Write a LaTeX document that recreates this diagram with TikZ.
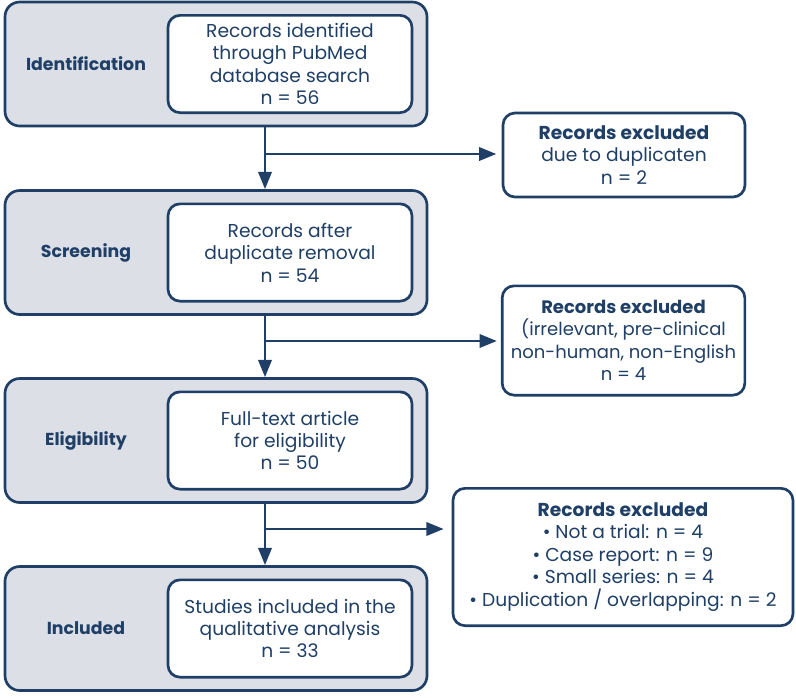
\documentclass[tikz,border=0pt]{standalone}
\usepackage{fontspec}
\setmainfont{Poppins}
\usetikzlibrary{arrows.meta}
\definecolor{navy}{HTML}{1F3F66}
\definecolor{panel}{HTML}{DDDFE7}
\tikzset{
  stage/.style={draw=navy, fill=panel, line width=2pt, rounded corners=11pt,
    minimum width=316.5pt, minimum height=93pt, inner sep=0pt},
  inner/.style={draw=navy, fill=white, line width=2pt, rounded corners=9pt,
    minimum width=183pt, minimum height=73pt, inner sep=0pt, align=center,
    text=navy, font=\fontsize{14}{16.8}\selectfont},
  excl/.style={draw=navy, fill=white, line width=2pt, rounded corners=9pt,
    inner sep=0pt, align=center, text=navy, font=\fontsize{14}{16.8}\selectfont},
  stagelabel/.style={text=navy, font=\fontsize{13}{16}\selectfont\bfseries},
  flow/.style={draw=navy, line width=2pt, -{Triangle[length=13pt,width=10pt]}},
  plain/.style={draw=navy, line width=2pt}
}
\begin{document}
\begin{tikzpicture}[x=0.75pt,y=-0.75pt]
\useasboundingbox (0,0) rectangle (796,697);
% stages
\node[stage] (s1) at (216,64) {};
\node[stage] (s2) at (216,252.5) {};
\node[stage] (s3) at (216,440.5) {};
\node[stage] (s4) at (216,628.5) {};
\node[stagelabel] (l1) at (86,64) {Identification};
\node[stagelabel] (l2) at (86,252.5) {Screening};
\node[stagelabel] (l3) at (86,440.5) {Eligibility};
\node[stagelabel] (l4) at (86,628.5) {Included};
\node[inner] (b1) at (290,64) {Records identified\\through PubMed\\database search\\n = 56};
\node[inner] (b2) at (290,252.5) {Records after\\duplicate removal\\n = 54};
\node[inner] (b3) at (290,440.5) {Full-text article\\for eligibility\\n = 50};
\node[inner] (b4) at (290,628.5) {Studies included in the\\qualitative analysis\\n = 33};
% exclusion boxes
\node[excl, minimum width=181.5pt, minimum height=63pt] (e1) at (624,155)
  {\textbf{Records excluded}\\due to duplicaten\\n = 2};
\node[excl, minimum width=182pt, minimum height=82pt,
  font=\fontsize{13.5}{16.8}\selectfont] (e2) at (623.5,340.5)
  {\textbf{Records excluded}\\(irrelevant, pre-clinical\\non-human, non-English\\n = 4};
\node[excl, minimum width=255pt, minimum height=103pt] (e3) at (623,557)
  {\textbf{Records excluded}\\• Not a trial: n = 4\\• Case report: n = 9\\• Small series: n = 4\\• Duplication / overlapping: n = 2};
% branch points
\coordinate (j1) at (265,154);
\coordinate (j2) at (265,341);
\coordinate (j3) at (265,529);
% vertical flow
\draw[flow] (s1.south -| j1) -- (s2.north -| j1);
\draw[flow] (s2.south -| j2) -- (s3.north -| j2);
\draw[flow] (s3.south -| j3) -- (s4.north -| j3);
% side branches
\draw[flow, shorten >=4pt] (j1) -- (j1 -| e1.west);
\draw[flow, shorten >=3pt] (j2) -- (j2 -| e2.west);
\draw[flow, shorten >=6pt] (j3) -- (j3 -| e3.west);
\end{tikzpicture}
\end{document}
